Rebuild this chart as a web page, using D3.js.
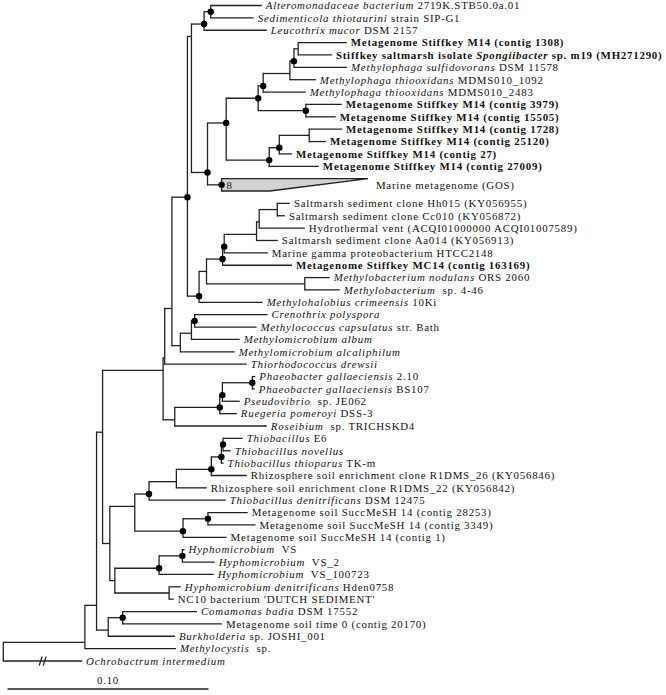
<!DOCTYPE html>
<html><head><meta charset="utf-8">
<script src="https://cdn.jsdelivr.net/npm/d3@7"></script>
<style>body{margin:0;background:#fff} svg text{white-space:pre}</style>
</head><body><svg id="c" width="666" height="695"></svg>
<script>
// [node, parent, branch length]
const branches = [
 ["R", null, 0],
 ["A","R",0.0406],
 ["B","A",0.0058],
 ["C","B",0.0030],
 ["F","C",0.0301],
 ["H","F",0.0008],
 ["K","H",0.0036],
 ["L","K",0.0077],
 ["P","L",0.0020],
 ["n2","P",0.0063],
 ["n1","n2",0.0033],
 ["t1","n1",0.0254],
 ["t2","n1",0.0214],
 ["t3","n2",0.0312],
 ["Y","P",0.0080],
 ["Z","Y",0.0093],
 ["Z1","Z",0.0159],
 ["Sp3","Z1",0.0025],
 ["Sp2","Sp3",0.0133],
 ["Sp1","Sp2",0.0020],
 ["Sp0","Sp1",0.0021],
 ["t4","Sp0",0.0242],
 ["t5","Sp0",0.0168],
 ["t6","Sp1",0.0264],
 ["t7","Sp2",0.0129],
 ["t8","Sp3",0.0212],
 ["Mp","Z1",0.0237],
 ["t9","Mp",0.0179],
 ["t10","Mp",0.0149],
 ["Z2","Z",0.0214],
 ["Z2b","Z2",0.0050],
 ["Z2a","Z2b",0.0149],
 ["t11","Z2a",0.0163],
 ["t12","Z2a",0.0083],
 ["t13","Z2b",0.0063],
 ["t14","Z2",0.0247],
 ["t15","Y",0.0070],
 ["Q","L",0.0058],
 ["S","Q",0.0037],
 ["T","S",0.0080],
 ["V","T",0.0008],
 ["W","V",0.0161],
 ["W2","W",0.0013],
 ["X1","W2",0.0090],
 ["t16","X1",0.0063],
 ["t17","X1",0.0038],
 ["t18","W2",0.0227],
 ["t19","W",0.0106],
 ["t20","V",0.0217],
 ["t21","T",0.0345],
 ["U","S",0.0489],
 ["t22","U",0.0124],
 ["t23","U",0.0174],
 ["t24","Q",0.0317],
 ["M","K",0.0042],
 ["N","M",0.0055],
 ["O","N",0.0016],
 ["t25","O",0.0363],
 ["t26","O",0.0308],
 ["t27","N",0.0240],
 ["t28","M",0.0270],
 ["t29","H",0.0408],
 ["I","F",0.0058],
 ["J","I",0.0224],
 ["J1","J",0.0013],
 ["J2","J1",0.0149],
 ["t30","J2",0.0015],
 ["t31","J2",0.0012],
 ["t32","J1",0.0086],
 ["t33","J",0.0085],
 ["t34","I",0.0458],
 ["G","C",0.0036],
 ["TB6","G",0.0124],
 ["TB5","TB6",0.0071],
 ["TB4","TB5",0.0136],
 ["TB3","TB4",0.0174],
 ["TB2","TB3",0.0050],
 ["TB1","TB2",0.0008],
 ["t35","TB1",0.0098],
 ["t36","TB1",0.0038],
 ["t37","TB2",0.0011],
 ["t38","TB3",0.0176],
 ["t39","TB4",0.0151],
 ["t40","TB5",0.0382],
 ["SM2","TB6",0.0240],
 ["SM1","SM2",0.0124],
 ["t41","SM1",0.0198],
 ["t42","SM1",0.0237],
 ["t43","SM2",0.0217],
 ["HY3","G",0.0025],
 ["HY2","HY3",0.0220],
 ["HY1","HY2",0.0116],
 ["t44","HY1",0.0011],
 ["t45","HY1",0.0161],
 ["t46","HY2",0.0272],
 ["HD","HY3",0.0270],
 ["t47","HD",0.0058],
 ["t48","HD",0.0023],
 ["D","B",0.0058],
 ["CM1","D",0.0072],
 ["t49","CM1",0.0370],
 ["t50","CM1",0.0494],
 ["t51","D",0.0332],
 ["t52","A",0.0453],
 ["t53","R",0.0392]
];

// leaf labels, *...* = italic
const leafLabels = [
 "*Alteromonadaceae bacterium* 2719K.STB50.0a.01",
 "*Sedimenticola thiotaurini* strain SIP-G1",
 "*Leucothrix mucor* DSM 2157",
 "Metagenome Stiffkey M14 (contig 1308)",
 "Stiffkey saltmarsh isolate *Spongiibacter* sp. m19 (MH271290)",
 "*Methylophaga sulfidovorans* DSM 11578",
 "*Methylophaga thiooxidans* MDMS010_1092",
 "*Methylophaga thiooxidans* MDMS010_2483",
 "Metagenome Stiffkey M14 (contig 3979)",
 "Metagenome Stiffkey M14 (contig 15505)",
 "Metagenome Stiffkey M14 (contig 1728)",
 "Metagenome Stiffkey M14 (contig 25120)",
 "Metagenome Stiffkey M14 (contig 27)",
 "Metagenome Stiffkey M14 (contig 27009)",
 "Marine metagenome (GOS)",
 "Saltmarsh sediment clone Hh015 (KY056955)",
 "Saltmarsh sediment clone Cc010 (KY056872)",
 "Hydrothermal vent (ACQI01000000 ACQI01007589)",
 "Saltmarsh sediment clone Aa014 (KY056913)",
 "Marine gamma proteobacterium HTCC2148",
 "Metagenome Stiffkey MC14 (contig 163169)",
 "*Methylobacterium nodulans* ORS 2060",
 "*Methylobacterium*  sp. 4-46",
 "*Methylohalobius crimeensis* 10Ki",
 "*Crenothrix polyspora*",
 "*Methylococcus capsulatus* str. Bath",
 "*Methylomicrobium album*",
 "*Methylomicrobium alcaliphilum*",
 "*Thiorhodococcus drewsii*",
 "*Phaeobacter gallaeciensis* 2.10",
 "*Phaeobacter gallaeciensis* BS107",
 "*Pseudovibrio*  sp. JE062",
 "*Ruegeria pomeroyi* DSS-3",
 "*Roseibium*  sp. TRICHSKD4",
 "*Thiobacillus* E6",
 "*Thiobacillus novellus*",
 "*Thiobacillus thioparus* TK-m",
 "Rhizosphere soil enrichment clone R1DMS_26 (KY056846)",
 "Rhizosphere soil enrichment clone R1DMS_22 (KY056842)",
 "*Thiobacillus denitrificans* DSM 12475",
 "Metagenome soil SuccMeSH 14 (contig 28253)",
 "Metagenome soil SuccMeSH 14 (contig 3349)",
 "Metagenome soil SuccMeSH 14 (contig 1)",
 "*Hyphomicrobium*  VS",
 "*Hyphomicrobium*  VS_2",
 "*Hyphomicrobium*  VS_100723",
 "*Hyphomicrobium denitrificans* Hden0758",
 "NC10 bacterium 'DUTCH SEDIMENT'",
 "*Comamonas badia* DSM 17552",
 "Metagenome soil time 0 (contig 20170)",
 "*Burkholderia* sp. JOSHI_001",
 "*Methylocystis*  sp.",
 "*Ochrobactrum intermedium*"
];
const boldLeaves = ["t4","t5","t9","t10","t11","t12","t13","t14","t21"];
const supportedNodes = ["n1","n2","L","Y","Z","Z1","Sp3","Sp1","Mp","Z2","Z2b","t15","Q","T","V","O",
  "J","J1","J2","TB1","TB2","TB3","TB5","SM1","SM2","HY1","HY2","CM1"];
// collapsed clade: id, number of sequences, longest and shortest branch inside
const collapsedIds = ["t15"];
const collapsedCounts = ["8"];
const collapsedLongest = [0.0728];
const collapsedShortest = [0.0240];
const brokenBranches = ["t53"];
const scaleBarValue = 0.1;
const scaleBarLabel = "0.10";

const svg = d3.select("#c");
const FONT = "'Liberation Serif','Times New Roman',serif";
const FS = 10.9;
const LS = 0.75;
const LINE = "#222";

const root = d3.stratify().id(d => d[0]).parentId(d => d[1])(branches);
root.eachBefore(n => { n.dist = n.parent ? n.parent.dist + n.data[2] : 0; });

let cursor = 0;
root.leaves().forEach(l => {
  const ci = collapsedIds.indexOf(l.id);
  if (ci >= 0) { l.top = cursor; l.bot = cursor + 1; l.slot = cursor + 0.5; cursor += 2; l.ci = ci; }
  else { l.top = l.bot = l.slot = cursor; cursor += 1; }
});
root.eachAfter(n => {
  if (n.children) {
    const a = n.children[0], b = n.children[n.children.length - 1];
    n.top = a.top; n.bot = b.bot;
    n.slot = (a.bot + b.top) / 2;
  }
});

const x = d3.scaleLinear().domain([0, 0.1]).range([3.3, 204.3]);
const y = d3.scaleLinear().domain([0, cursor - 1]).range([5.5, 661]);

const g = svg.append("g");
const nodes = root.descendants();

g.selectAll("line.h").data(nodes.filter(n => n.parent)).join("line")
  .attr("x1", n => x(n.parent.dist)).attr("x2", n => x(n.dist))
  .attr("y1", n => y(n.slot)).attr("y2", n => y(n.slot))
  .attr("stroke", LINE).attr("stroke-width", 1.3);
g.selectAll("line.v").data(nodes.filter(n => n.children)).join("line")
  .attr("x1", n => x(n.dist)).attr("x2", n => x(n.dist))
  .attr("y1", n => y(n.children[0].slot) - 0.65).attr("y2", n => y(n.children[n.children.length - 1].slot) + 0.65)
  .attr("stroke", LINE).attr("stroke-width", 1.3);

const coll = nodes.filter(n => n.ci !== undefined);
g.selectAll("path.tri").data(coll).join("path")
  .attr("d", n => {
    const x0 = x(n.dist), xl = x(n.dist + collapsedLongest[n.ci]), xs = x(n.dist + collapsedShortest[n.ci]);
    const t = y(n.top), b = y(n.bot);
    return `M${x0},${t}L${xl},${t}L${xs},${b}L${x0},${b}Z`;
  })
  .attr("fill", "#d2d2d2").attr("stroke", LINE).attr("stroke-width", 1.3);
g.selectAll("text.cnt").data(coll).join("text")
  .attr("x", n => x(n.dist) + 5).attr("y", n => y(n.slot) + 3.8)
  .attr("font-family", FONT).attr("font-size", FS).attr("fill", "#222")
  .text(n => collapsedCounts[n.ci]);

nodes.filter(n => brokenBranches.includes(n.id)).forEach(n => {
  const xm = (x(n.parent.dist) + x(n.dist)) / 2, yy = y(n.slot);
  [-2, 2].forEach(dx => {
    g.append("line").attr("x1", xm + dx - 1.5).attr("y1", yy + 4.5).attr("x2", xm + dx + 1.5).attr("y2", yy - 4.5)
      .attr("stroke", LINE).attr("stroke-width", 1.2);
  });
});

g.selectAll("circle").data(nodes.filter(n => supportedNodes.includes(n.id))).join("circle")
  .attr("cx", n => x(n.dist)).attr("cy", n => y(n.slot)).attr("r", 3.2).attr("fill", "#000");

const leaves = root.leaves();
const lab = g.selectAll("text.lab").data(leaves).join("text")
  .attr("x", n => n.ci !== undefined ? x(n.dist + collapsedLongest[n.ci]) + 8 : x(n.dist) + 4)
  .attr("y", n => y(n.slot) + 3.8)
  .attr("font-family", FONT).attr("font-size", FS).attr("letter-spacing", LS).attr("fill", "#111")
  .attr("font-weight", n => boldLeaves.includes(n.id) ? "bold" : "normal");
lab.each(function(n, i) {
  const parts = leafLabels[i].split("*");
  const t = d3.select(this);
  parts.forEach((p, k) => { if (p.length) t.append("tspan").attr("font-style", k % 2 ? "italic" : "normal").text(p); });
});

const sbY = 689, sbX = 7.5;
const sbLen = x(scaleBarValue) - x(0);
g.append("line").attr("x1", sbX).attr("x2", sbX + sbLen).attr("y1", sbY).attr("y2", sbY)
  .attr("stroke", LINE).attr("stroke-width", 1.3);
g.append("text").attr("x", sbX + sbLen / 2).attr("y", sbY - 5).attr("text-anchor", "middle")
  .attr("font-family", FONT).attr("font-size", FS).attr("letter-spacing", LS).attr("fill", "#111").text(scaleBarLabel);
</script></body></html>
